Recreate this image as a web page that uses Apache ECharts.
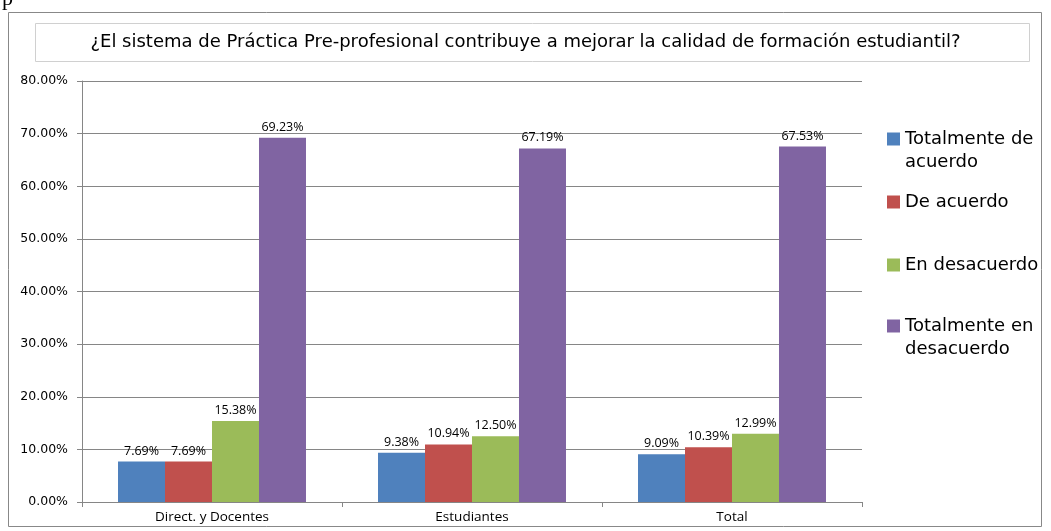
<!DOCTYPE html>
<html>
<head>
<meta charset="utf-8">
<script src="https://cdn.jsdelivr.net/npm/echarts@6/dist/echarts.min.js"></script>
<style>
  html, body { margin: 0; padding: 0; background: #fff; }
  #chart { width: 1051px; height: 531px; }
</style>
</head>
<body>
<div id="chart"></div>
<script>
// data (percent)
const categories = ['Direct. y Docentes', 'Estudiantes', 'Total'];
const seriesNames = ['Totalmente de acuerdo', 'De acuerdo', 'En desacuerdo', 'Totalmente en desacuerdo'];
const legendLabels = ['Totalmente de\nacuerdo', 'De acuerdo', 'En desacuerdo', 'Totalmente en\ndesacuerdo'];
const totalmenteDeAcuerdo = [7.69, 9.38, 9.09];
const deAcuerdo = [7.69, 10.94, 10.39];
const enDesacuerdo = [15.38, 12.50, 12.99];
const totalmenteEnDesacuerdo = [69.23, 67.19, 67.53];
const colors = ['#4F81BD', '#C0504D', '#9BBB59', '#8064A2'];

const titleText = '¿El sistema de Práctica Pre-profesional contribuye a mejorar la calidad de formación estudiantil?';
const OPEN = '"Open Sans", "DejaVu Sans", sans-serif';
const DEJA = '"DejaVu Sans", sans-serif';

var myChart = echarts.init(document.getElementById('chart'));

var values = [totalmenteDeAcuerdo, deAcuerdo, enDesacuerdo, totalmenteEnDesacuerdo];

// one small legend per entry; two-line labels get an empty first line so that
// the icon lines up with the first line of text
var legendCenters = [139, 202, 265, 326];
var legends = seriesNames.map(function (name, i) {
    var multi = legendLabels[i].indexOf('\n') >= 0;
    var label = multi ? ' \n' + legendLabels[i] : legendLabels[i];
    return {
        data: [name],
        left: 887,
        top: multi ? legendCenters[i] - 34.5 : legendCenters[i] - 11.5,
        orient: 'vertical',
        padding: 0,
        itemWidth: 13,
        itemHeight: 13,
        itemGap: 6,
        icon: 'rect',
        selectedMode: false,
        formatter: function () { return label; },
        textStyle: {
            fontFamily: DEJA,
            fontSize: 18,
            color: '#000',
            lineHeight: 23
        }
    };
});

var option = {
    animation: false,
    backgroundColor: '#fff',
    color: colors,
    title: {
        text: titleText,
        left: 'center',
        top: 33,
        padding: 0,
        textStyle: {
            fontFamily: DEJA,
            fontSize: 18,
            fontWeight: 'normal',
            color: '#000'
        }
    },
    graphic: [
        {
            type: 'rect',
            z: -10,
            shape: { x: 8.5, y: 12.5, width: 1033, height: 514 },
            style: { fill: '#fff', stroke: '#888', lineWidth: 1 }
        },
        {
            type: 'rect',
            z: -9,
            shape: { x: 35.5, y: 23.5, width: 994, height: 38 },
            style: { fill: '#fff', stroke: '#d0d0d0', lineWidth: 1 }
        },
        {
            type: 'text',
            left: 2,
            top: -12,
            style: { text: 'p', font: '22px "Liberation Serif", serif', fill: '#000' }
        }
    ],
    legend: legends,
    grid: {
        left: 82,
        right: 189,
        top: 81,
        bottom: 29,
        containLabel: false
    },
    xAxis: {
        type: 'category',
        data: categories,
        axisLine: { lineStyle: { color: '#868686' } },
        axisTick: { show: true, length: 5, lineStyle: { color: '#868686' } },
        axisLabel: {
            fontFamily: OPEN,
            fontSize: 13.5,
            color: '#000',
            margin: 8
        }
    },
    yAxis: {
        type: 'value',
        min: 0,
        max: 80,
        interval: 10,
        axisLine: { show: true, lineStyle: { color: '#868686' } },
        axisTick: { show: true, length: 5, lineStyle: { color: '#868686' } },
        splitLine: { lineStyle: { color: '#868686' } },
        axisLabel: {
            fontFamily: DEJA,
            fontSize: 12.5,
            color: '#000',
            margin: 14,
            formatter: function (v) { return v.toFixed(2) + '%'; }
        }
    },
    series: seriesNames.map(function (name, i) {
        return {
            name: name,
            type: 'bar',
            data: values[i],
            barGap: '0%',
            barCategoryGap: '27.7%',
            itemStyle: { color: colors[i] },
            label: {
                show: true,
                position: 'top',
                distance: 4,
                fontFamily: OPEN,
                fontSize: 12.5,
                color: '#000',
                formatter: function (p) { return p.value.toFixed(2) + '%'; }
            }
        };
    })
};

myChart.setOption(option);
</script>
</body>
</html>
